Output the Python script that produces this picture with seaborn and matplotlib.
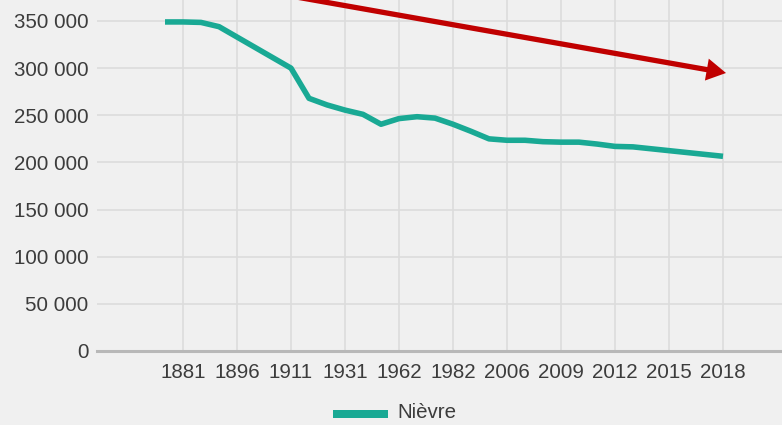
import matplotlib
matplotlib.use("Agg")
import matplotlib.pyplot as plt
import seaborn as sns
import pandas as pd

years = ["1876", "1881", "1886", "1891", "1896", "1901", "1906", "1911", "1921", "1926",
         "1931", "1936", "1954", "1962", "1968", "1975", "1982", "1990", "1999", "2006",
         "2007", "2008", "2009", "2010", "2011", "2012", "2013", "2014", "2015", "2016",
         "2017", "2018"]
population = [349000, 349000, 348500, 344000, 333000, 322000, 311000, 300000, 268000, 261000,
              255500, 251000, 240500, 246500, 248500, 247000, 240500, 233000, 225000, 223500,
              223500, 222000, 221500, 221500, 219500, 217000, 216500, 214500, 212500, 210500,
              208500, 206500]
shown_labels = ["1881", "1896", "1911", "1931", "1962", "1982", "2006", "2009", "2012", "2015", "2018"]
y_ticks = [0, 50000, 100000, 150000, 200000, 250000, 300000, 350000]
series_name = "Nièvre"

df = pd.DataFrame({"idx": range(len(years)), "year": years, "pop": population, "serie": series_name})

sns.set_theme(style="white")
plt.rcParams["font.family"] = ["Liberation Sans", "DejaVu Sans"]

bg = "#f0f0f0"
teal = "#19a994"
grid_c = "#dcdcdc"
text_c = "#3c3c3c"

fig = plt.figure(figsize=(7.82, 4.25), dpi=100, facecolor=bg)
W, H = 782, 425
ax = fig.add_axes([97 / W, (H - 351) / H, 1 - 97 / W, 351 / H])
ax.set_facecolor(bg)

sns.lineplot(data=df, x="idx", y="pop", hue="serie", palette=[teal], linewidth=4.0,
             ax=ax, legend=False, solid_capstyle="butt", solid_joinstyle="round")

# axes limits: index i at x = 165 + 18*i px
x0 = (97 - 165) / 18
x1 = (782 - 165) / 18
ax.set_xlim(x0, x1)
ax.set_ylim(0, 351 / 330 * 350000)

tick_pos = [years.index(l) for l in shown_labels]
ax.set_xticks(tick_pos)
ax.set_xticklabels(shown_labels)
ax.set_yticks(y_ticks)
ax.set_yticklabels([f"{v:,}".replace(",", " ") for v in y_ticks])

for s in ["top", "right", "left"]:
    ax.spines[s].set_visible(False)
ax.spines["bottom"].set_color("#b8b8b8")
ax.spines["bottom"].set_linewidth(2.2)
ax.spines["bottom"].set_zorder(1)

ax.grid(True, color=grid_c, linewidth=1.2, zorder=0)
ax.set_axisbelow(True)
ax.tick_params(axis="x", length=6, width=1.2, color=grid_c, labelsize=14.8, labelcolor=text_c, pad=3)
ax.tick_params(axis="y", length=0, labelsize=14.8, labelcolor=text_c, pad=6)
ax.set_xlabel("")
ax.set_ylabel("")

# red trend arrow
ax.annotate("", xy=((726 - 165) / 18, (351 - 73) / 330 * 350000),
            xytext=((285 - 165) / 18, (351 + 5) / 330 * 350000),
            arrowprops=dict(width=3.8, headwidth=16, headlength=14, facecolor="#c00000",
                            edgecolor="none", lw=0, shrink=0),
            annotation_clip=False, zorder=5)

# legend
fig.patches.append(plt.Rectangle((333 / W, 1 - 418 / H), 55 / W, 8 / H, transform=fig.transFigure,
                                 facecolor=teal, edgecolor="none"))
fig.text(397 / W, 1 - 413 / H, series_name, fontsize=14.8, color=text_c, va="center", ha="left")

fig.savefig("out.png", dpi=100, facecolor=bg)
